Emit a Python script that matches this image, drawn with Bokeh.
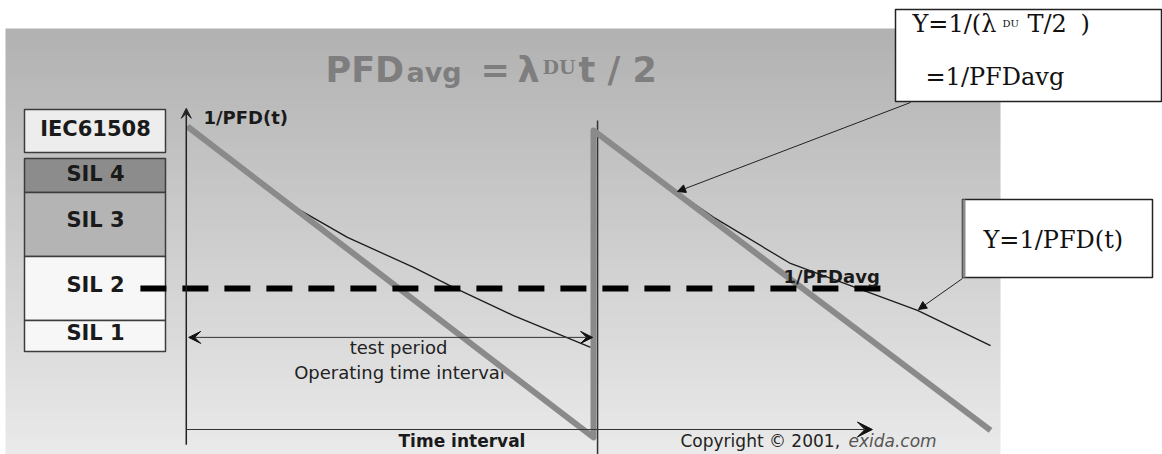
import numpy as np
from bokeh.plotting import figure
from bokeh.models import Range1d, Arrow, VeeHead, NormalHead
from bokeh.core.properties import value
from bokeh.embed import file_html
from bokeh.resources import INLINE

# ---------------- data (time in test periods T, level in units of 1/PFD at t=0) ----
approx_t = [0.0, 1.0, 1.0, 1.978]          # thick grey saw-tooth (linear approx)
approx_v = [1.0, -0.026, 0.987, -0.003]
curve1_t = [0.0, 0.13, 0.278, 0.394, 0.557, 0.655, 0.803, 0.993]   # 1/PFD(t), 1st period
curve1_v = [1.0, 0.866, 0.723, 0.634, 0.535, 0.469, 0.376, 0.271]
curve2_t = [1.0, 1.133, 1.207, 1.296, 1.485, 1.653, 1.798, 1.978]  # 2nd period
curve2_v = [0.987, 0.845, 0.782, 0.700, 0.548, 0.465, 0.393, 0.277]
avg_t = [-0.116, 1.732]                     # 1/PFDavg level
avg_v = [0.465, 0.465]
proof_test_t = 1.01                         # proof test instant
sil_labels = ["IEC61508", "SIL 4", "SIL 3", "SIL 2", "SIL 1"]

# ---------------- layout --------------------------------------------------------
W, H = 1162, 454
PX_T0, PX_PER_T = 187, 406
PX_V0, PX_PER_V = 429, 303

p = figure(width=W, height=H, x_range=Range1d(0, W), y_range=Range1d(H, 0),
           output_backend="svg", toolbar_location=None, min_border=0,
           x_axis_location=None, y_axis_location=None,
           background_fill_color="white", border_fill_color="white",
           outline_line_color=None)
p.grid.visible = False
p.extra_x_ranges = {"t": Range1d(start=(0 - PX_T0) / PX_PER_T, end=(W - PX_T0) / PX_PER_T)}
p.extra_y_ranges = {"v": Range1d(start=(PX_V0 - H) / PX_PER_V, end=PX_V0 / PX_PER_V)}
D = dict(x_range_name="t", y_range_name="v")

# grey gradient panel
edges = np.linspace(28, 454, 72)
shades = np.linspace(178, 234, len(edges) - 1).astype(int)
cols = ["#%02x%02x%02x" % (s, s, s) for s in shades]
p.quad(left=5, right=1000, top=edges[:-1], bottom=edges[1:] + 0.5,
       fill_color=cols, line_color=None)


def txt(x, y, s, size, font="DejaVu Sans", style="normal", color="#1a1a1a",
        align="left"):
    # y is the baseline; place by the middle of the em box
    ym = y - 0.36 * size
    p.text(x=[x], y=[ym], text=[s], text_font=value(font),
           text_font_size=value(f"{size}px"), text_font_style=value(style),
           text_color=color, text_align=align, text_baseline="middle")


# title
tc = "#7e7e7e"
txt(325, 82, "PFD", 35, style="bold", color=tc)
txt(406, 82, "avg", 27, style="bold", color=tc)
txt(480, 82, "=", 35, style="bold", color=tc)
txt(517, 82, "λ", 35, style="bold", color=tc)
txt(542, 73, "DU", 19, font="DejaVu Serif", style="bold", color=tc)
txt(578, 82, "t / 2", 35, style="bold", color=tc)

# SIL table
sil_top = [109, 158, 192, 256, 320]
sil_bot = [152, 192, 256, 320, 351]
sil_fill = ["#ededed", "#8c8c8c", "#b4b4b4", "#f7f7f7", "#f7f7f7"]
sil_ty = [136, 181, 227, 292, 340]
p.quad(left=24, right=165, top=sil_top, bottom=sil_bot, fill_color=sil_fill,
       line_color="#3c3c3c", line_width=1.5)
for lab, y in zip(sil_labels, sil_ty):
    txt(95, y, lab, 21, style="bold", align="center")

# axes
p.add_layout(Arrow(end=VeeHead(size=10, fill_color="#222", line_color="#222"),
                   x_start=-0.003, y_start=-0.05, x_end=-0.003, y_end=1.06,
                   line_color="#222", line_width=1.5, **D))
p.add_layout(Arrow(end=VeeHead(size=15, fill_color="#111", line_color="#111"),
                   x_start=-0.003, y_start=0.0, x_end=1.687, y_end=0.0,
                   line_color="#333", line_width=1, **D))
p.line([proof_test_t, proof_test_t], [1.02, -0.09], line_color="#333", line_width=1.5, **D)
txt(203, 123, "1/PFD(t)", 18, style="bold")

# test period arrow
p.add_layout(Arrow(start=VeeHead(size=12, fill_color="#111", line_color="#111"),
                   end=VeeHead(size=12, fill_color="#111", line_color="#111"),
                   x_start=0.003, y_start=0.304, x_end=0.998, y_end=0.304,
                   line_color="#333", line_width=1, **D))
txt(398, 353, "test period", 18, color="#222", align="center")
txt(399, 378, "Operating time interval", 18, color="#222", align="center")

# curves
p.line(curve1_t, curve1_v, line_color="#1c1c1c", line_width=1.3, **D)
p.line(curve2_t, curve2_v, line_color="#1c1c1c", line_width=1.3, **D)
p.line(approx_t, approx_v, line_color="#8a8a8a", line_width=6, line_join="round", **D)
p.line(avg_t, avg_v, line_color="black", line_width=6, line_dash="26 16", **D)
txt(783, 282, "1/PFDavg", 18, style="bold")

# bottom texts
txt(398, 447, "Time interval", 17, style="bold")
txt(680, 447, "Copyright © 2001, ", 17, color="#222")
txt(848, 447, "exida.com", 17, style="italic", color="#555")

# callout boxes
p.quad(left=895, right=1161, top=9, bottom=101, fill_color="white",
       line_color="#222", line_width=1.5)
p.quad(left=962, right=1152, top=199, bottom=277, fill_color="white",
       line_color="#222", line_width=1.5)
p.line([963.5, 963.5], [199, 277], line_color="#8a8a8a", line_width=3)
sf = "DejaVu Serif"
txt(912, 32, "Y=1/(λ", 24, font=sf, color="#111")
txt(1002, 27, "DU", 10, font=sf, color="#111")
txt(1027, 32, "T/2", 24, font=sf, color="#111")
txt(1080, 32, ")", 24, font=sf, color="#111")
txt(925, 85, "=1/PFDavg", 24, font=sf, color="#111")
txt(983, 248, "Y=1/PFD(t)", 24, font=sf, color="#111")

p.add_layout(Arrow(end=NormalHead(size=8, fill_color="#111", line_color="#111"),
                   x_start=910, y_start=102, x_end=677, y_end=191,
                   line_color="#222", line_width=1))
p.add_layout(Arrow(end=NormalHead(size=8, fill_color="#111", line_color="#111"),
                   x_start=962, y_start=278, x_end=918, y_end=309,
                   line_color="#222", line_width=1))

open("out.html", "w").write(file_html(p, INLINE))
